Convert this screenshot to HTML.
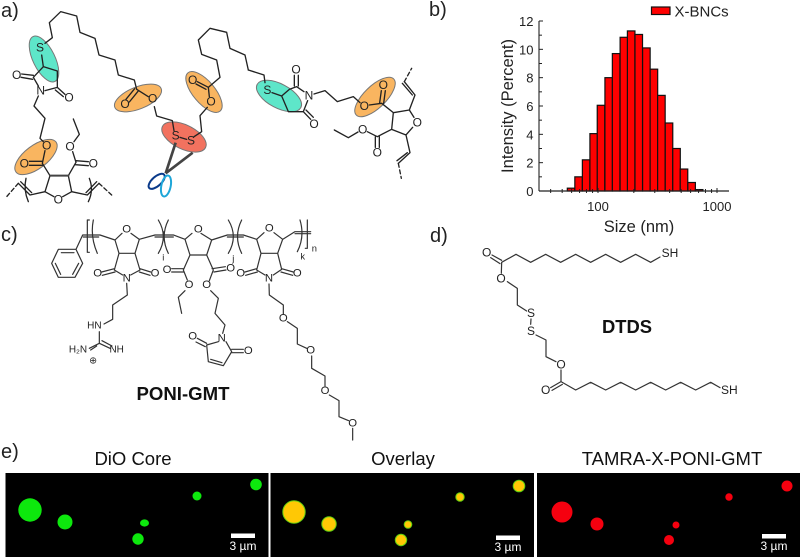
<!DOCTYPE html>
<html>
<head>
<meta charset="utf-8">
<title>X-BNC figure</title>
<style>
html,body{margin:0;padding:0;background:#fff;}
#fig{display:block;width:800px;height:557px;font-family:"Liberation Sans",sans-serif;}
.b{fill:none;stroke:#222;stroke-width:4;stroke-linejoin:round;stroke-linecap:round;}
.g{fill:none;stroke:#333;stroke-width:3.6;stroke-linejoin:round;stroke-linecap:round;}
.d{stroke-dasharray:12 8;}
.a{font-size:36px;text-anchor:middle;dominant-baseline:central;fill:#222;}
.c{font-size:34px;text-anchor:middle;dominant-baseline:central;fill:#222;}
.l{font-size:30px;text-anchor:middle;dominant-baseline:central;fill:#222;}
.pl{font-size:20px;fill:#222;}
.t{font-size:18.5px;fill:#111;text-anchor:middle;}
.sc{font-size:12px;fill:#fff;text-anchor:middle;}
.tick{font-size:13px;fill:#222;}
</style>
</head>
<body>
<svg id="fig" xmlns="http://www.w3.org/2000/svg" width="800" height="557" viewBox="0 0 800 557">
<rect width="800" height="557" fill="#fff"/>

<text class="pl" x="1" y="17">a)</text>
<text class="pl" x="429" y="16">b)</text>
<text class="pl" x="1" y="241">c)</text>
<text class="pl" x="430" y="242">d)</text>
<text class="pl" x="1" y="458">e)</text>

<!-- Panel a -->
<g>
<g stroke="#777" stroke-width="1">
<ellipse cx="44" cy="59" rx="25" ry="11" transform="rotate(64 44 59)" fill="#5ee6c9"/>
<ellipse cx="36" cy="157" rx="25" ry="11.5" transform="rotate(-37 36 157)" fill="#f9b560"/>
<ellipse cx="138" cy="98" rx="25" ry="11" transform="rotate(-22 138 98)" fill="#f9b560"/>
<ellipse cx="204" cy="92" rx="25" ry="11" transform="rotate(50 204 92)" fill="#f9b560"/>
<ellipse cx="184" cy="137" rx="24" ry="12" transform="rotate(26 184 137)" fill="#f2725f"/>
<ellipse cx="279" cy="96" rx="24.7" ry="12" transform="rotate(28 279 96)" fill="#5ee6c9"/>
<ellipse cx="375" cy="97" rx="26" ry="11" transform="rotate(-44 375 97)" fill="#f9b560"/>
</g>
<g transform="scale(0.33333)">
<path class="b" d="M135 130L157 113L148 68L182 35L230 48L240 97L285 115L297 165L345 180L355 225L403 240L410 268M404 266L378 298M414 274L388 306M410 268L445 290M463 320L470 348L517 362L522 392M540 412L560 418M582 410L605 395L600 347L622 322M628 290L625 262M625 262L592 245M618 268L588 252M625 262L660 232L650 180L605 163L595 120L630 85L680 97L690 145L735 165L745 210"/>
<path class="b" d="M125 165L130 200M130 200L100 232M130 200L172 213L172 262M100 226L65 222M98 238L63 232M100 232L115 258M135 272L172 262M172 262L195 283M166 270L190 290M115 288L102 318L135 355L120 415L130 425M135 452L127 490M127 484L88 484M127 496L88 496M127 490L150 527M150 527L135 575L162 590M188 590L215 575L205 527L228 487M228 482L265 485M226 494L265 497M228 487L218 455M222 425L238 403L220 357"/>
<path class="b" style="stroke-width:6;stroke:#444" d="M150 527L205 527"/>
<path class="b" d="M135 575L90 585L55 550M95 578L62 545M215 575L262 585L297 550M258 578L290 545M78 535Q70 570 85 605M268 535Q282 570 265 605"/>
<path class="b d" d="M55 550L20 590M297 550L335 585"/>
<text class="a" x="120" y="143">S</text><text class="a" x="50" y="225">O</text><text class="a" x="122" y="272">N</text><text class="a" x="207" y="292">O</text>
<text class="a" x="140" y="437">O</text><text class="a" x="73" y="490">O</text><text class="a" x="175" y="598">O</text><text class="a" x="280" y="490">O</text><text class="a" x="210" y="440">O</text>
<text class="a" x="375" y="312">O</text><text class="a" x="458" y="295">O</text><text class="a" x="527" y="407">S</text><text class="a" x="573" y="422">S</text><text class="a" x="633" y="305">O</text><text class="a" x="578" y="240">O</text>
<g>
<path d="M527 428L497 520M578 458L497 520" fill="none" stroke="#444" stroke-width="8"/>
<ellipse cx="470" cy="544" rx="30" ry="14" transform="rotate(-42 470 544)" fill="none" stroke="#0a3a8a" stroke-width="6"/>
<ellipse cx="498" cy="558" rx="14" ry="32" transform="rotate(12 498 558)" fill="none" stroke="#1ea6d8" stroke-width="6"/>
</g>
</g>
<g transform="translate(240 0) scale(0.33333)">
<path class="b" d="M25 210L72 225L75 248M96 278L125 288L148 268L170 260L192 275M125 288L145 335L190 335L203 302M163 258L163 226M175 258L175 226M190 335L212 358M198 330L220 352M222 282L255 272L292 305L340 290L360 308M388 315L425 310M419 308L424 272M431 310L436 272M425 310L460 338L508 330L522 352M518 382L498 405L455 388L460 338M508 330L525 285L493 245M517 285L487 250M498 405L510 458L475 490M502 458L471 482M455 388L412 410M406 410L406 442M418 410L418 442M412 410L382 395M354 396L325 413L283 390"/>
<path class="b d" d="M493 245L515 205M475 490L484 535"/>
<text class="a" x="82" y="270">S</text><text class="a" x="168" y="208">O</text><text class="a" x="207" y="286">N</text><text class="a" x="222" y="372">O</text><text class="a" x="373" y="318">O</text><text class="a" x="430" y="255">O</text><text class="a" x="532" y="367">O</text><text class="a" x="412" y="458">O</text><text class="a" x="368" y="388">O</text>
</g>
</g>

<!-- Panel c -->
<g transform="translate(0 220) scale(0.33333)">
<path class="g" d="M175 88L228 88L248 130L225 172L175 172L155 130ZM184 98L222 98M236 130L218 163M182 163L166 130M228 88L248 45L300 45L345 60L366 40M250 51L296 51M393 40L418 58M345 60L357 100L405 100L418 58M357 100L343 150L368 165M405 100L420 150L392 165M343 146L305 156M345 156L307 166M420 146L452 156M418 156L450 166M380 190L382 225L338 255L338 298L312 312M298 335L298 370M298 370L330 385M306 362L336 378M298 370L268 385M290 378L272 390"/>
<path class="g" d="M262 0L262 97L268 97M262 0L268 0M280 0Q270 50 292 100M418 58L465 45L520 45L555 58L576 40M465 51L520 51M475 0Q505 50 475 100M505 0Q480 50 505 100M490 35L490 60M603 40L635 60M555 58L570 105L620 105L635 60M570 105L550 150M550 146L515 146M550 156L515 156M550 150L562 180M555 212L535 232L545 280"/>
<text class="c" x="380" y="28">O</text><text class="c" x="293" y="160">O</text><text class="c" x="465" y="160">O</text><text class="c" x="380" y="175">N</text>
<text class="l" x="283" y="318">HN</text><text class="l" x="234" y="390">H₂N</text><text class="l" x="350" y="390">NH</text><text class="c" x="279" y="422" style="font-size:28px">⊕</text>
<text class="c" x="490" y="112" style="font-size:28px">i</text><text class="c" x="501" y="150">O</text><text class="c" x="567" y="195">O</text>
</g>
<g transform="translate(190 220) scale(0.33333)">
<path class="g" d="M50 105L70 150M66 146L106 140M72 156L108 150M70 150L58 182M62 212L85 235L75 280L105 315L98 340M85 365L50 375M108 365L125 395M50 375L55 425L100 437L125 395M62 418L96 428M50 370L22 355M46 380L18 366M125 388L160 388M125 398L160 398"/>
<path class="g" d="M65 60L112 45L160 45L200 58L222 38M112 51L160 51M115 0Q145 50 115 100M155 0Q130 50 155 100M252 38L278 58L315 35L362 35M315 41L362 41M200 58L213 100L263 100L278 58M213 100L200 150L225 165M263 100L275 148L250 165M200 146L165 156M202 156L167 166M275 146L310 156M273 156L308 166"/>
<path class="g" d="M330 0Q345 50 322 95M352 0L352 85L346 85M237 192L238 225L280 255L280 282M292 305L322 325L322 372L350 385M365 408L365 445L405 468L405 498M418 525L447 542L447 590L476 602M488 625L488 660"/>
<text class="c" x="25" y="28">O</text><text class="c" x="122" y="145">O</text><text class="c" x="50" y="195">O</text><text class="c" x="95" y="355">N</text><text class="c" x="8" y="350">O</text><text class="c" x="175" y="393">O</text>
<text class="c" x="130" y="115" style="font-size:28px">j</text><text class="c" x="238" y="25">O</text><text class="c" x="152" y="160">O</text><text class="c" x="322" y="160">O</text><text class="c" x="237" y="175">N</text>
<text class="c" x="338" y="110" style="font-size:28px">k</text><text class="c" x="373" y="85" style="font-size:28px">n</text>
<text class="c" x="280" y="295">O</text><text class="c" x="362" y="392">O</text><text class="c" x="405" y="513">O</text><text class="c" x="488" y="610">O</text>
</g>
<text x="183" y="400" text-anchor="middle" font-size="18.6" font-weight="bold" fill="#111">PONI-GMT</text>

<!-- Panel d -->
<g transform="translate(430 225) scale(0.33333)">
<path class="g" d="M215 112L258 88L302 112L347 88L392 112L437 88L482 112L527 88L572 112L617 88L662 112L690 96M215 106L186 90M210 116L182 98M215 112L214 145M232 170L262 190L262 240L290 258M303 282L302 298M318 330L348 345L348 395L378 410M393 435L393 470L437 495L482 472L527 495L572 472L617 495L662 472L707 495L752 472L797 495L842 472L870 488M393 470L362 488M397 478L366 496"/>
<text class="a" x="170" y="82">O</text><text class="a" x="213" y="160">O</text><text class="a" x="303" y="264">S</text><text class="a" x="303" y="318">S</text><text class="a" x="393" y="418">O</text><text class="a" x="347" y="495">O</text>
<text class="a" x="720" y="84">SH</text><text class="a" x="898" y="495">SH</text>
</g>
<text x="627" y="333" text-anchor="middle" font-size="18.4" font-weight="bold" fill="#111">DTDS</text>

<!-- Panel e -->
<text class="t" x="133" y="465">DiO Core</text>
<text class="t" x="403" y="465">Overlay</text>
<text class="t" x="672" y="465">TAMRA-X-PONI-GMT</text>

<g>
<rect x="5.5" y="473" width="263" height="84" fill="#000"/>
<g fill="#0de80d">
<circle cx="30" cy="510" r="11.7"/><circle cx="65" cy="522" r="7.5"/><ellipse cx="144.5" cy="523" rx="4.5" ry="3.6"/><circle cx="138" cy="539" r="5.7"/><circle cx="197" cy="496" r="4.5"/><circle cx="256" cy="484.5" r="5.8"/>
</g>
<rect x="231" y="533.5" width="24" height="4.5" fill="#fff"/>
<text class="sc" x="243" y="550">3 µm</text>
</g>
<g>
<rect x="270.5" y="473" width="263.5" height="84" fill="#000"/>
<g fill="#ffc805" stroke="#5fd010" stroke-width="1">
<circle cx="294" cy="512" r="11.2"/><circle cx="329" cy="524" r="7.2"/><circle cx="401" cy="540" r="5.7"/><circle cx="408" cy="524.5" r="3.8"/><circle cx="460" cy="497" r="4.2"/><circle cx="519" cy="486" r="5.8"/>
</g>
<rect x="496" y="535.5" width="24" height="4.5" fill="#fff"/>
<text class="sc" x="508" y="551">3 µm</text>
</g>
<g>
<rect x="537" y="473" width="263" height="84" fill="#000"/>
<g fill="#f5000f">
<circle cx="562" cy="512" r="10.5"/><circle cx="597" cy="524" r="6.5"/><circle cx="676" cy="525" r="3.5"/><circle cx="669" cy="540" r="5"/><circle cx="729" cy="497" r="3.7"/><circle cx="787" cy="486" r="5.5"/>
</g>
<rect x="762" y="534" width="24" height="4.5" fill="#fff"/>
<text class="sc" x="774" y="550">3 µm</text>
</g>

<g id="chart"></g>
</svg>
<script>
var binSizes = [59.4, 68.7, 79.5, 92, 106, 123, 142, 165, 190, 220, 255, 295, 341, 395, 457, 528, 612, 708];
var intensityValues = [0.2, 1, 2.2, 4.05, 6.05, 8, 9.7, 10.85, 11.3, 11.05, 10.1, 8.6, 6.75, 4.8, 3, 1.55, 0.6, 0.1];
var yMajorTicks = [0, 2, 4, 6, 8, 10, 12];
var yMinorTicks = [1, 3, 5, 7, 9, 11];
var xMajorTicks = [100, 1000];
var xMinorTicks = [40, 50, 60, 70, 80, 90, 200, 300, 400, 500, 600, 700, 800, 900];
var binLogWidth = 0.0634;
var seriesName = 'X-BNCs';

var NS = 'http://www.w3.org/2000/svg';
var chart = document.getElementById('chart');
function xScale(size) { return 598 + 119 * (Math.log10(size) - 2); }
function yScale(v) { return 191 - v * 170 / 12; }
function mk(tag, attrs, text) {
  var el = document.createElementNS(NS, tag);
  for (var k in attrs) el.setAttribute(k, attrs[k]);
  if (text !== undefined) el.textContent = text;
  chart.appendChild(el);
  return el;
}
binSizes.forEach(function (size, i) {
  var x0 = xScale(size * Math.pow(10, -binLogWidth / 2));
  var x1 = xScale(size * Math.pow(10, binLogWidth / 2));
  var y = yScale(intensityValues[i]);
  var bar = mk('rect', { x: x0, y: y, width: x1 - x0, height: yScale(0) - y, fill: '#ff0000', stroke: '#111', 'stroke-width': 1.2 });
  
  
});
var yAxis = mk('line', { x1: 539, x2: 539, y1: yScale(12), y2: yScale(0), stroke: '#222', 'stroke-width': 1.1 });


var xAxis = mk('line', { x1: 539, x2: 729, y1: yScale(0), y2: yScale(0), stroke: '#222', 'stroke-width': 1.2 });


yMajorTicks.forEach(function (v) {
  var t = mk('line', { x1: 539, x2: 543, y1: yScale(v), y2: yScale(v), stroke: '#222', 'stroke-width': 1 });
  
  
  var l = mk('text', { x: 533.5, y: yScale(v) + 5, 'text-anchor': 'end', class: 'tick' }, String(v));
  
  
});
yMinorTicks.forEach(function (v) {
  var t = mk('line', { x1: 539, x2: 542, y1: yScale(v), y2: yScale(v), stroke: '#222', 'stroke-width': 1 });
  
  
});
xMajorTicks.forEach(function (v) {
  var t = mk('line', { x1: xScale(v), x2: xScale(v), y1: 188, y2: 193, stroke: '#222', 'stroke-width': 1 });
  
  
  var l = mk('text', { x: xScale(v), y: 211, 'text-anchor': 'middle', class: 'tick' }, String(v));
  
  
});
xMinorTicks.forEach(function (v) {
  var t = mk('line', { x1: xScale(v), x2: xScale(v), y1: 189, y2: 193, stroke: '#222', 'stroke-width': 1 });
  
  
});
var yTitle = mk('text', { transform: 'translate(513 106) rotate(-90)', 'text-anchor': 'middle', 'font-size': 16.5, fill: '#222' }, 'Intensity (Percent)');


var xTitle = mk('text', { x: 639, y: 232, 'text-anchor': 'middle', 'font-size': 16.5, fill: '#222' }, 'Size (nm)');


var swatch = mk('rect', { x: 651.5, y: 7, width: 18.5, height: 7.5, fill: '#ff0000', stroke: '#111', 'stroke-width': 1.2 });


var legend = mk('text', { x: 674.5, y: 16.5, 'font-size': 15, fill: '#222' }, seriesName);


</script>
</body>
</html>
